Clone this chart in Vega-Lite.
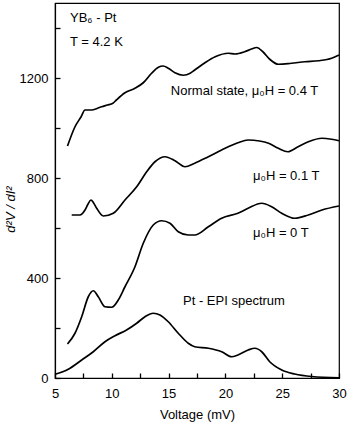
{
  "$schema": "https://vega.github.io/schema/vega-lite/v6.json",
  "width": 284,
  "height": 375,
  "autosize": {"type": "none"},
  "padding": {"left": 55, "top": 3, "right": 11, "bottom": 52},
  "background": "white",
  "config": {
    "view": {"stroke": "black", "strokeWidth": 1.2},
    "font": "Liberation Sans",
    "axis": {
      "domainColor": "black",
      "domainWidth": 1.2,
      "tickColor": "black",
      "tickWidth": 1.3,
      "labelColor": "black",
      "titleColor": "black",
      "labelFontSize": 13,
      "titleFontSize": 13,
      "titleFontWeight": "normal",
      "grid": false,
      "labelFont": "Liberation Sans",
      "titleFont": "Liberation Sans"
    }
  },
  "resolve": {"axis": {"x": "independent", "y": "independent"}},
  "datasets": {
    "curves": [
      {"series": "n04", "v": 6.1, "val": 928},
      {"series": "n04", "v": 6.76, "val": 1005},
      {"series": "n04", "v": 7.3, "val": 1045},
      {"series": "n04", "v": 7.64, "val": 1072},
      {"series": "n04", "v": 8.23, "val": 1072},
      {"series": "n04", "v": 8.7, "val": 1078},
      {"series": "n04", "v": 9.1, "val": 1085},
      {"series": "n04", "v": 9.6, "val": 1092},
      {"series": "n04", "v": 10.1, "val": 1099},
      {"series": "n04", "v": 10.4, "val": 1112},
      {"series": "n04", "v": 11.16, "val": 1141},
      {"series": "n04", "v": 12.04, "val": 1159},
      {"series": "n04", "v": 12.77, "val": 1181},
      {"series": "n04", "v": 13.5, "val": 1219},
      {"series": "n04", "v": 14.1, "val": 1243},
      {"series": "n04", "v": 14.53, "val": 1248},
      {"series": "n04", "v": 14.97, "val": 1239},
      {"series": "n04", "v": 15.56, "val": 1221},
      {"series": "n04", "v": 16.3, "val": 1211},
      {"series": "n04", "v": 16.9, "val": 1219},
      {"series": "n04", "v": 17.3, "val": 1232},
      {"series": "n04", "v": 18.2, "val": 1261},
      {"series": "n04", "v": 19.1, "val": 1285},
      {"series": "n04", "v": 20.26, "val": 1299},
      {"series": "n04", "v": 20.85, "val": 1296},
      {"series": "n04", "v": 21.7, "val": 1305},
      {"series": "n04", "v": 22.3, "val": 1316},
      {"series": "n04", "v": 22.75, "val": 1322},
      {"series": "n04", "v": 23.3, "val": 1305},
      {"series": "n04", "v": 23.9, "val": 1275},
      {"series": "n04", "v": 24.66, "val": 1255},
      {"series": "n04", "v": 25.8, "val": 1259},
      {"series": "n04", "v": 27.0, "val": 1265},
      {"series": "n04", "v": 28.2, "val": 1269},
      {"series": "n04", "v": 29.35, "val": 1279},
      {"series": "n04", "v": 30.0, "val": 1292},
      {"series": "n01", "v": 6.47, "val": 652},
      {"series": "n01", "v": 7.2, "val": 652},
      {"series": "n01", "v": 7.64, "val": 672},
      {"series": "n01", "v": 7.9, "val": 695},
      {"series": "n01", "v": 8.17, "val": 712},
      {"series": "n01", "v": 8.4, "val": 700},
      {"series": "n01", "v": 8.67, "val": 679},
      {"series": "n01", "v": 9.25, "val": 648},
      {"series": "n01", "v": 10.13, "val": 659},
      {"series": "n01", "v": 11.16, "val": 712},
      {"series": "n01", "v": 12.19, "val": 765},
      {"series": "n01", "v": 13.07, "val": 825},
      {"series": "n01", "v": 13.8, "val": 865},
      {"series": "n01", "v": 14.68, "val": 885},
      {"series": "n01", "v": 15.56, "val": 869},
      {"series": "n01", "v": 16.44, "val": 845},
      {"series": "n01", "v": 17.3, "val": 859},
      {"series": "n01", "v": 18.5, "val": 885},
      {"series": "n01", "v": 19.67, "val": 912},
      {"series": "n01", "v": 21.1, "val": 941},
      {"series": "n01", "v": 22.0, "val": 952},
      {"series": "n01", "v": 23.0, "val": 948},
      {"series": "n01", "v": 23.8, "val": 939},
      {"series": "n01", "v": 24.66, "val": 919},
      {"series": "n01", "v": 25.5, "val": 905},
      {"series": "n01", "v": 26.4, "val": 925},
      {"series": "n01", "v": 27.3, "val": 945},
      {"series": "n01", "v": 28.5, "val": 959},
      {"series": "n01", "v": 29.35, "val": 955},
      {"series": "n01", "v": 30.0, "val": 949},
      {"series": "n00", "v": 6.1, "val": 136},
      {"series": "n00", "v": 6.76, "val": 179},
      {"series": "n00", "v": 7.35, "val": 245},
      {"series": "n00", "v": 7.93, "val": 325},
      {"series": "n00", "v": 8.37, "val": 349},
      {"series": "n00", "v": 8.81, "val": 325},
      {"series": "n00", "v": 9.4, "val": 285},
      {"series": "n00", "v": 9.99, "val": 283},
      {"series": "n00", "v": 10.57, "val": 312},
      {"series": "n00", "v": 11.16, "val": 365},
      {"series": "n00", "v": 12.04, "val": 445},
      {"series": "n00", "v": 12.77, "val": 539},
      {"series": "n00", "v": 13.65, "val": 612},
      {"series": "n00", "v": 14.39, "val": 629},
      {"series": "n00", "v": 15.12, "val": 619},
      {"series": "n00", "v": 15.85, "val": 585},
      {"series": "n00", "v": 16.73, "val": 572},
      {"series": "n00", "v": 17.3, "val": 572},
      {"series": "n00", "v": 18.5, "val": 605},
      {"series": "n00", "v": 19.67, "val": 639},
      {"series": "n00", "v": 21.1, "val": 659},
      {"series": "n00", "v": 22.0, "val": 679},
      {"series": "n00", "v": 23.2, "val": 699},
      {"series": "n00", "v": 24.07, "val": 685},
      {"series": "n00", "v": 24.96, "val": 659},
      {"series": "n00", "v": 26.1, "val": 639},
      {"series": "n00", "v": 27.3, "val": 652},
      {"series": "n00", "v": 28.5, "val": 672},
      {"series": "n00", "v": 30.0, "val": 688},
      {"series": "epi", "v": 5.0, "val": 15},
      {"series": "epi", "v": 6.17, "val": 35},
      {"series": "epi", "v": 7.35, "val": 72},
      {"series": "epi", "v": 8.37, "val": 105},
      {"series": "epi", "v": 9.4, "val": 145},
      {"series": "epi", "v": 10.28, "val": 169},
      {"series": "epi", "v": 11.3, "val": 192},
      {"series": "epi", "v": 12.19, "val": 219},
      {"series": "epi", "v": 12.92, "val": 245},
      {"series": "epi", "v": 13.65, "val": 259},
      {"series": "epi", "v": 14.24, "val": 252},
      {"series": "epi", "v": 14.97, "val": 225},
      {"series": "epi", "v": 15.85, "val": 179},
      {"series": "epi", "v": 16.73, "val": 139},
      {"series": "epi", "v": 17.3, "val": 125},
      {"series": "epi", "v": 18.5, "val": 119},
      {"series": "epi", "v": 19.67, "val": 105},
      {"series": "epi", "v": 20.55, "val": 85},
      {"series": "epi", "v": 21.1, "val": 92},
      {"series": "epi", "v": 22.0, "val": 112},
      {"series": "epi", "v": 22.6, "val": 119},
      {"series": "epi", "v": 23.2, "val": 105},
      {"series": "epi", "v": 23.9, "val": 65},
      {"series": "epi", "v": 24.96, "val": 32},
      {"series": "epi", "v": 26.1, "val": 16},
      {"series": "epi", "v": 27.6, "val": 6},
      {"series": "epi", "v": 30.0, "val": 1}
    ],
    "notes": [
      {"label": "YB₆ - Pt", "v": 6.32, "val": 1440},
      {"label": "T = 4.2 K", "v": 6.32, "val": 1344},
      {"label": "Normal state, μ₀H = 0.4 T", "v": 15.2, "val": 1148},
      {"label": "μ₀H = 0.1 T", "v": 22.43, "val": 808},
      {"label": "μ₀H = 0 T", "v": 22.43, "val": 580},
      {"label": "Pt - EPI spectrum", "v": 16.27, "val": 308}
    ]
  },
  "layer": [
    {
      "data": {"name": "curves"},
      "mark": {"type": "line", "color": "black", "strokeWidth": 1.7, "interpolate": "monotone"},
      "encoding": {
        "x": {
          "field": "v", "type": "quantitative",
          "scale": {"domain": [5, 30], "nice": false, "zero": false},
          "axis": {
            "orient": "bottom",
            "title": "Voltage (mV)",
            "values": [5, 10, 15, 20, 25, 30],
            "ticks": false,
            "labelPadding": 9,
            "titleY": 30,
            "titleBaseline": "top",
            "labelFlush": false
          }
        },
        "y": {
          "field": "val", "type": "quantitative",
          "scale": {"domain": [0, 1500], "nice": false},
          "axis": {
            "orient": "left",
            "title": "d²V / dI²",
            "titleFontStyle": "italic",
            "values": [0, 400, 800, 1200],
            "format": "d",
            "ticks": false,
            "labelPadding": 7,
            "titleX": -38,
            "titleY": 206,
            "labelFlush": false
          }
        },
        "detail": {"field": "series"}
      }
    },
    {
      "data": {"name": "notes"},
      "mark": {"type": "text", "align": "left", "baseline": "middle", "fontSize": 13, "color": "black", "font": "Liberation Sans"},
      "encoding": {
        "x": {
          "field": "v", "type": "quantitative",
          "scale": {"domain": [5, 30], "nice": false, "zero": false},
          "axis": {
            "orient": "top",
            "offset": -375,
            "title": null,
            "labels": false,
            "domain": false,
            "ticks": true,
            "tickSize": 5,
            "values": [5, 7.5, 10, 12.5, 15, 17.5, 20, 22.5, 25, 27.5, 30]
          }
        },
        "y": {
          "field": "val", "type": "quantitative",
          "scale": {"domain": [0, 1500], "nice": false},
          "axis": {
            "orient": "right",
            "offset": -284,
            "title": null,
            "labels": false,
            "domain": false,
            "ticks": true,
            "tickSize": 5,
            "values": [0, 200, 400, 600, 800, 1000, 1200, 1400]
          }
        },
        "text": {"field": "label"}
      }
    }
  ]
}
